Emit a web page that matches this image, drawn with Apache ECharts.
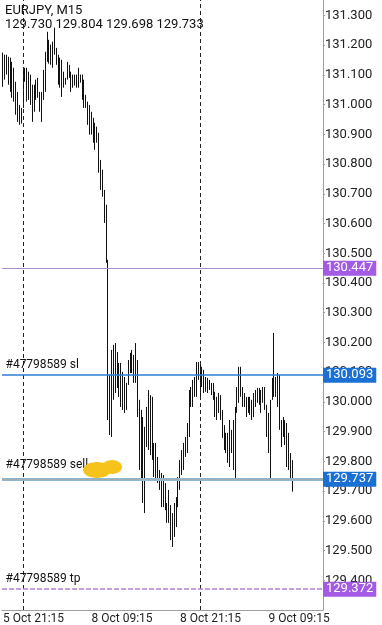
<!DOCTYPE html>
<html>
<head>
<meta charset="utf-8">
<script src="https://cdn.jsdelivr.net/npm/echarts@6/dist/echarts.min.js"></script>
<style>
html, body { margin: 0; padding: 0; background: #fff; }
#main { width: 382px; height: 625px; }
</style>
</head>
<body>
<div id="main"></div>
<script>
// EURJPY M15 bars
const opens = [
  131.120, 131.140, 131.150, 131.110, 131.130, 131.070, 131.110, 131.030, 130.990, 130.960,
  130.950, 130.990, 131.090, 131.100, 131.030, 131.080, 131.020, 130.980, 131.040, 131.030,
  131.040, 130.990, 131.020, 131.100, 131.160, 131.210, 131.160, 131.190, 131.170, 131.190,
  131.150, 131.090, 131.130, 131.060, 131.090, 131.090, 131.130, 131.100, 131.060, 131.090,
  131.070, 131.095, 131.080, 131.090, 131.030, 131.000, 131.005, 130.950, 130.920, 130.950,
  130.890, 130.900, 130.880, 130.790, 130.730, 130.700, 130.620, 130.470, 129.980, 129.920,
  130.120, 130.030, 130.150, 130.080, 130.040, 130.100, 130.000, 130.020, 130.060, 130.120,
  130.140, 130.110, 130.150, 130.080, 129.980, 129.800, 129.900, 129.700, 129.880, 129.950,
  129.870, 130.000, 129.820, 129.850, 129.760, 129.765, 129.720, 129.680, 129.720, 129.660,
  129.610, 129.650, 129.560, 129.550, 129.640, 129.650, 129.740, 129.790, 129.820, 129.850,
  129.870, 129.920, 130.030, 130.000, 130.060, 130.070, 130.120, 130.090, 130.060, 130.100,
  130.050, 130.070, 130.045, 130.060, 130.030, 130.030, 129.960, 129.990, 130.010, 129.960,
  129.890, 129.860, 129.880, 129.820, 129.900, 129.850, 129.900, 129.970, 130.030, 130.100,
  130.040, 130.000, 130.010, 129.970, 130.000, 129.970, 129.990, 130.020, 130.000, 130.040,
  130.000, 130.030, 130.010, 129.990, 129.900, 129.850, 130.010, 130.060, 130.040, 130.070,
  130.000, 129.920, 129.890, 129.930, 129.870, 129.800, 129.820, 129.730
];
const closes = [
  131.140, 131.150, 131.110, 131.130, 131.070, 131.110, 131.030, 130.990, 130.960, 130.950,
  130.980, 131.090, 131.100, 131.030, 131.080, 131.020, 130.960, 131.040, 131.030, 131.060,
  130.990, 131.010, 131.100, 131.160, 131.220, 131.160, 131.190, 131.140, 131.240, 131.150,
  131.090, 131.130, 131.050, 131.090, 131.075, 131.130, 131.100, 131.060, 131.090, 131.070,
  131.095, 131.080, 131.090, 131.030, 131.000, 131.020, 130.950, 130.920, 130.960, 130.890,
  130.900, 130.880, 130.790, 130.730, 130.700, 130.620, 130.480, 129.980, 129.920, 130.120,
  130.030, 130.150, 130.080, 130.040, 130.100, 130.000, 130.020, 130.060, 130.120, 130.140,
  130.110, 130.150, 130.080, 129.980, 129.800, 129.900, 129.700, 129.880, 129.950, 129.870,
  130.000, 129.820, 129.850, 129.760, 129.800, 129.720, 129.680, 129.740, 129.660, 129.610,
  129.690, 129.560, 129.530, 129.640, 129.600, 129.740, 129.790, 129.820, 129.850, 129.870,
  129.920, 130.030, 130.000, 130.060, 130.070, 130.120, 130.090, 130.040, 130.100, 130.050,
  130.070, 130.040, 130.065, 130.030, 130.050, 129.960, 129.990, 130.010, 129.960, 129.890,
  129.860, 129.880, 129.820, 129.920, 129.850, 129.900, 129.960, 130.030, 130.100, 130.040,
  130.000, 130.020, 129.960, 130.000, 129.970, 129.990, 130.020, 130.000, 130.040, 130.000,
  130.030, 130.010, 129.990, 129.900, 129.850, 129.990, 130.060, 130.040, 130.070, 130.000,
  129.920, 129.870, 129.930, 129.870, 129.800, 129.860, 129.750, 129.733
];
const lows = [
  131.060, 131.084, 131.101, 131.067, 131.043, 131.023, 131.010, 130.966, 130.942, 130.932,
  130.936, 130.989, 131.077, 131.010, 131.016, 130.999, 130.942, 130.976, 131.016, 131.023,
  130.976, 130.942, 131.016, 131.043, 131.144, 131.138, 131.134, 131.124, 131.168, 131.134,
  131.067, 131.057, 131.026, 131.057, 131.067, 131.084, 131.090, 131.043, 131.057, 131.064,
  131.057, 131.057, 131.074, 131.016, 130.989, 130.989, 130.932, 130.899, 130.899, 130.872,
  130.848, 130.872, 130.771, 130.713, 130.690, 130.602, 130.468, 129.939, 129.889, 129.882,
  130.007, 130.030, 130.047, 130.017, 129.983, 129.973, 129.963, 129.973, 130.057, 130.097,
  130.097, 130.064, 130.064, 129.949, 129.771, 129.737, 129.660, 129.626, 129.848, 129.838,
  129.821, 129.805, 129.747, 129.737, 129.727, 129.704, 129.646, 129.646, 129.636, 129.593,
  129.593, 129.535, 129.512, 129.546, 129.579, 129.646, 129.704, 129.754, 129.771, 129.815,
  129.828, 129.882, 129.983, 129.983, 130.017, 130.017, 130.074, 130.007, 130.050, 130.030,
  130.034, 130.030, 130.040, 130.023, 130.007, 129.949, 129.939, 129.963, 129.939, 129.879,
  129.838, 129.828, 129.795, 129.781, 129.828, 129.771, 129.737, 129.963, 129.997, 130.017,
  129.983, 129.983, 129.949, 129.963, 129.956, 129.939, 129.949, 129.983, 129.997, 129.990,
  129.963, 129.997, 129.973, 129.882, 129.828, 129.737, 130.007, 130.017, 130.017, 129.983,
  129.906, 129.848, 129.882, 129.855, 129.781, 129.771, 129.737, 129.698
];
const highs = [
  131.175, 131.168, 131.168, 131.161, 131.158, 131.144, 131.124, 131.077, 131.043, 130.999,
  130.989, 131.117, 131.124, 131.124, 131.111, 131.101, 131.067, 131.067, 131.084, 131.090,
  131.043, 131.043, 131.117, 131.178, 131.245, 131.218, 131.202, 131.212, 131.259, 131.191,
  131.168, 131.158, 131.151, 131.111, 131.090, 131.144, 131.134, 131.111, 131.101, 131.101,
  131.101, 131.124, 131.101, 131.101, 131.084, 131.033, 131.010, 130.999, 130.976, 130.956,
  130.939, 130.926, 130.905, 130.814, 130.781, 130.713, 130.663, 130.478, 130.091, 130.175,
  130.192, 130.198, 130.168, 130.131, 130.131, 130.101, 130.084, 130.064, 130.141, 130.165,
  130.175, 130.158, 130.198, 130.141, 130.007, 129.973, 129.949, 129.916, 129.983, 130.040,
  130.023, 130.017, 129.862, 129.862, 129.815, 129.771, 129.761, 129.754, 129.727, 129.660,
  129.704, 129.653, 129.626, 129.660, 129.680, 129.747, 129.805, 129.838, 129.862, 129.882,
  129.929, 130.040, 130.050, 130.074, 130.084, 130.134, 130.134, 130.131, 130.118, 130.108,
  130.084, 130.081, 130.074, 130.064, 130.064, 130.034, 130.017, 130.030, 130.023, 129.973,
  129.922, 129.896, 129.896, 129.939, 129.906, 129.939, 129.983, 130.050, 130.118, 130.118,
  130.050, 130.030, 130.017, 130.017, 130.017, 130.007, 130.030, 130.040, 130.047, 130.047,
  130.040, 130.050, 130.050, 129.990, 129.963, 130.007, 130.081, 130.232, 130.084, 130.097,
  130.091, 129.939, 129.949, 129.939, 129.929, 129.896, 129.828, 129.804
];

// order / price levels
const levelTp = 129.372;
const levelSl = 130.093;
const levelOpen = 129.741;
const levelBid = 129.737;
const levelAlert = 130.447;
const orderId = '#47798589';
const separators = [11, 107]; // day boundaries (slot index)

// time axis: Friday evening, then Monday/Tuesday, plus empty slots on the right
const slotCount = 174;
const times = [];
for (let i = 0; i < slotCount; i++) {
  let day, min;
  if (i < 11) {
    day = 5;
    min = 21 * 60 + 15 + i * 15;
  } else {
    const t = (i - 11) * 15;
    day = 8 + Math.floor(t / 1440);
    min = t % 1440;
  }
  const hh = String(Math.floor(min / 60)).padStart(2, '0');
  const mm = String(min % 60).padStart(2, '0');
  times.push(day + ' Oct ' + hh + ':' + mm);
}

const ohlc = opens.map((o, i) => [o, closes[i], lows[i], highs[i]]);
const last = opens.length - 1;
const header = [opens[last], highs[last], lows[last], closes[last]].map(v => v.toFixed(3)).join(' ');

const font = 'Roboto';
const purple = '#a35ae4';
const blue = '#1b70d4';

function tag(value, color) {
	return {
		show: true,
		position: 'end',
		distance: 0,
		formatter: value.toFixed(3),
		backgroundColor: color,
		color: '#fff',
		padding: [1, 3, 0, 3],
		lineHeight: 14,
		fontSize: 13,
		fontFamily: font
	};
}
// order text sits on the left end, just above its price level
function note(text, value, dy) {
	return {
		coord: [times[0], value],
		symbol: 'rect',
		symbolSize: 1,
		itemStyle: { color: 'rgba(0,0,0,0)' },
		label: {
			show: true,
			position: [3, dy],
			formatter: text,
			color: '#111',
			fontSize: 12,
			fontFamily: font
		}
	};
}
function hline(value, color, width, type, label) {
	return {
		type: 'line',
		data: [],
		silent: true,
		markLine: {
			silent: true,
			symbol: ['none', 'none'],
			animation: false,
			lineStyle: { color: color, width: width, type: type, opacity: 1 },
			label: label,
			data: [{ yAxis: value }]
		}
	};
}

const myChart = echarts.init(document.getElementById('main'), null, { renderer: 'canvas' });

option = {
	animation: false,
	backgroundColor: '#fff',
	grid: { left: 0, right: 59, top: 0, bottom: 15 },
	xAxis: {
		type: 'category',
		data: times,
		boundaryGap: true,
		axisLine: { lineStyle: { color: '#9e9e9e' } },
		axisTick: { show: false },
		axisLabel: {
			interval: (i) => i % 48 === 0,
			align: 'left',
			margin: 3,
			color: '#222',
			fontSize: 12,
			fontFamily: font
		},
		splitLine: { show: false }
	},
	yAxis: {
		type: 'value',
		position: 'right',
		min: 129.3,
		max: 131.352,
		interval: 0.1,
		axisLine: { show: true, lineStyle: { color: '#9e9e9e' } },
		axisTick: { show: true, length: 2, lineStyle: { color: '#9e9e9e' } },
		axisLabel: {
			margin: 2,
			color: '#222',
			fontSize: 13,
			fontFamily: font,
			showMinLabel: false,
			showMaxLabel: false,
			formatter: v => v.toFixed(3)
		},
		splitLine: { show: false }
	},
	series: [
		{
			type: 'candlestick',
			data: ohlc,
			barWidth: 1,
			silent: true,
			itemStyle: {
				color: '#111',
				color0: '#111',
				borderColor: '#111',
				borderColor0: '#111',
				borderWidth: 1
			},
			markLine: {
				silent: true,
				symbol: ['none', 'none'],
				animation: false,
				lineStyle: { color: '#222', width: 1, type: [4, 3] },
				label: { show: false },
				data: separators.map(i => ({ xAxis: times[i] }))
			},
			markPoint: {
				silent: true,
				animation: false,
				data: [
					note(orderId + ' sl', levelSl, -15),
					note(orderId + ' sell,', levelOpen, -19),
					note(orderId + ' tp', levelTp, -15)
				]
			}
		},
		hline(levelAlert, '#a690c6', 1, 'solid', tag(levelAlert, purple)),
		hline(levelSl, '#2a7fd4', 1.5, 'solid', tag(levelSl, blue)),
		hline(levelBid, '#8db6d3', 3, 'solid', tag(levelBid, blue)),
		hline(levelOpen, '#b0a898', 1, [3, 3], { show: false }),
		hline(levelTp, '#b07fd6', 1.5, [5, 2], tag(levelTp, purple))
	],
	graphic: [
		{ type: 'text', left: 5, top: 4, style: { text: 'EURJPY, M15', font: '13px Roboto', fill: '#111' } },
		{ type: 'text', left: 5, top: 18, style: { text: header, font: '13px Roboto', fill: '#111' } },
		// yellow scribble hiding the lot size
		{ type: 'ellipse', shape: { cx: 97, cy: 470, rx: 14, ry: 8 }, style: { fill: '#f6c31c' }, z: 10 },
		{ type: 'ellipse', shape: { cx: 112, cy: 467, rx: 10, ry: 7 }, style: { fill: '#f6c31c' }, z: 10 }
	]
};
myChart.setOption(option);
</script>
</body>
</html>
